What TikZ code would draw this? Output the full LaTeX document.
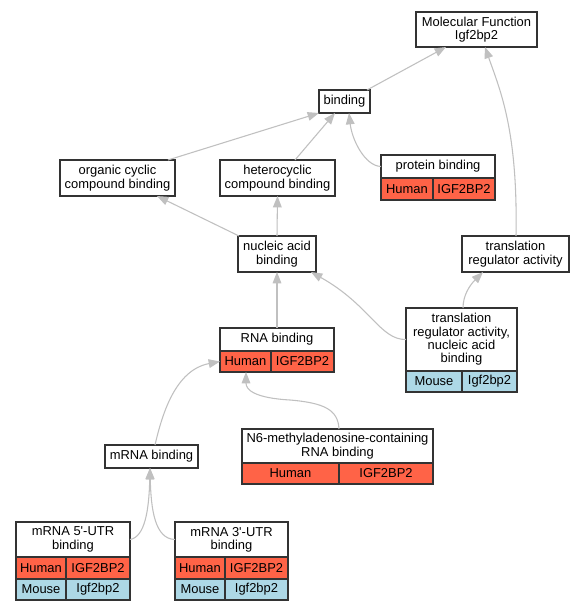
\documentclass[tikz,border=0pt]{standalone}
\usepackage{fontspec}
\newfontfamily\lsans{Liberation Sans}
\usetikzlibrary{arrows.meta,calc}
\definecolor{hred}{HTML}{FF6347}
\definecolor{mblue}{HTML}{ADD8E6}
\definecolor{edgegray}{HTML}{C0C0C0}
\definecolor{bordergray}{HTML}{333333}
\begin{document}
\begin{tikzpicture}[x=0.75pt,y=-0.75pt,
  cell/.style={draw=bordergray, line width=1pt, inner sep=0pt, outer sep=0pt,
    anchor=north west, align=center, fill=white,
    font=\lsans\fontsize{9.7}{10}\selectfont},
  sz/.style 2 args={minimum width=#1*0.75pt, minimum height=#2*0.75pt},
  hum/.style={cell, fill=hred},
  mou/.style={cell, fill=mblue},
  edge/.style={draw=edgegray, line width=0.8pt, -{Triangle[length=8.5pt,width=6.5pt]}}
]
\useasboundingbox[fill=white] (0,0) rectangle (584,611);

\node[cell, sz={121}{35}] (mf) at (416,12) {Molecular Function\\Igf2bp2};
\node[cell, sz={51}{23}] (bind) at (319,90) {binding};
\node[cell, sz={115}{36}] (occ) at (60,160) {organic cyclic\\compound binding};
\node[cell, sz={115}{36}] (hcc) at (220,160) {heterocyclic\\compound binding};
\node[cell, sz={114}{23}] (prot) at (381,155) {protein binding};
\node[hum, sz={52}{22}] (proth) at (381,178) {Human};
\node[hum, sz={62}{22}] (protg) at (433,178) {IGF2BP2};
\node[cell, sz={78}{36}] (nab) at (238,236) {nucleic acid\\binding};
\node[cell, sz={107}{36}] (tra) at (462,236) {translation\\regulator activity};
\node[cell, sz={114}{23}] (rna) at (220,328) {RNA binding};
\node[hum, sz={51}{21}] (rnah) at (220,351) {Human};
\node[hum, sz={63}{21}] (rnag) at (271,351) {IGF2BP2};
\node[cell, sz={111}{63}] (tnab) at (406,308) {translation\\regulator activity,\\nucleic acid\\binding};
\node[mou, sz={56}{21}] (tnabm) at (406,371) {Mouse};
\node[mou, sz={55}{21}] (tnabg) at (462,371) {Igf2bp2};
\node[cell, sz={93}{23}] (mrna) at (105,445) {mRNA binding};
\node[cell, sz={191}{34}] (n6) at (242,429) {N6-methyladenosine-containing\\RNA binding};
\node[hum, sz={97}{21}] (n6h) at (242,463) {Human};
\node[hum, sz={94}{21}] (n6g) at (339,463) {IGF2BP2};
\node[cell, sz={114}{35}] (utr5) at (16,522) {mRNA 5'-UTR\\binding};
\node[hum, sz={50}{22}] (utr5h) at (16,557) {Human};
\node[hum, sz={64}{22}] (utr5g) at (66,557) {IGF2BP2};
\node[mou, sz={50}{21}] (utr5m) at (16,579) {Mouse};
\node[mou, sz={64}{21}] (utr5k) at (66,579) {Igf2bp2};
\node[cell, sz={113}{35}] (utr3) at (175,522) {mRNA 3'-UTR\\binding};
\node[hum, sz={50}{22}] (utr3h) at (175,557) {Human};
\node[hum, sz={63}{22}] (utr3g) at (225,557) {IGF2BP2};
\node[mou, sz={50}{21}] (utr3m) at (175,579) {Mouse};
\node[mou, sz={63}{21}] (utr3k) at (225,579) {Igf2bp2};

\draw[edge] ($(bind.north east)+(-3,0)$) -- ($(mf.south west)+(30,0)$);
\draw[edge] ($(tra.north west)+(54,0)$) .. controls (518,130) and (500,90) .. ($(mf.south west)+(69,0)$);
\draw[edge] ($(occ.north west)+(108,0)$) -- (bind.south west);
\draw[edge] ($(hcc.north west)+(75,0)$) -- ($(bind.south west)+(16,0)$);
\draw[edge] (prot.west) .. controls (365,166) and (352,140) .. ($(bind.south west)+(30,0)$);
\draw[edge] ($(nab.north west)+(1,0)$) -- ($(occ.south west)+(97,0)$);
\draw[edge] (nab.north) -- (hcc.south);
\draw[edge] (rna.north) -- (nab.south);
\draw[edge] (tnab.west) .. controls (380,340) and (370,305) .. ($(nab.south east)+(-5,0)$);
\draw[edge] ($(tnab.north west)+(57,0)$) .. controls (463,295) and (470,285) .. ($(tra.south west)+(21,0)$);
\draw[edge] ($(mrna.north west)+(50,0)$) .. controls (162,415) and (175,370) .. (rnah.west);
\draw[edge] ($(n6.north west)+(97,0)$) .. controls (338,410) and (325,403) .. (290,400) .. controls (255,398) and (246,390) .. ($(rnah.south west)+(26,0)$);
\draw[edge] (utr5.east) .. controls (145,537) and (149,510) .. ($(mrna.south west)+(45,0)$);
\draw[edge] (utr3.west) .. controls (155,539) and (151,510) .. ($(mrna.south west)+(45,0)$);
\end{tikzpicture}
\end{document}
